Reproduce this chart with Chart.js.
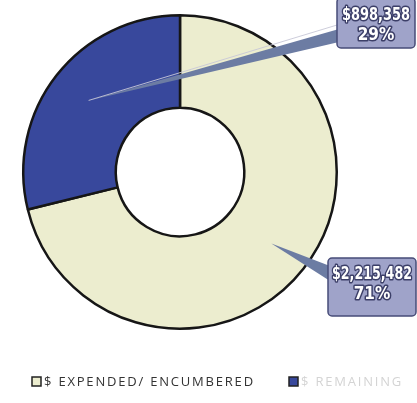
<!DOCTYPE html>
<html>
<head>
<meta charset="utf-8">
<script src="https://cdn.jsdelivr.net/npm/chart.js@4/dist/chart.umd.min.js"></script>
<style>
  html, body { margin: 0; padding: 0; background: #ffffff; }
  canvas { display: block; }
</style>
</head>
<body>
<canvas id="grafico" width="417" height="403"></canvas>
<script>
// dados do grafico
const categorias = ["$ EXPENDED/ ENCUMBERED", "$ REMAINING"];
const valores = [2215482, 898358];
const cores = ["#ecedcf", "#38489c"];

const total = valores.reduce((a, b) => a + b, 0);
const rotulosValor = valores.map(v => "$" + v.toLocaleString("en-US"));
const rotulosPct = valores.map(v => Math.round(v / total * 100) + "%");

// caixas das etiquetas (so posicao)
const caixas = [
  { x: 328, y: 258, w: 88, h: 58, base: [266, 281], larg: 80, ty: [275, 295] },
  { x: 337, y: -2, w: 78, h: 50, base: [29, 42], larg: 68, ty: [16, 36] }
];

function textoEstreito(ctx, txt, x, y, larg) {
  const w = ctx.measureText(txt).width;
  const s = Math.min(1, larg / w);
  ctx.save();
  ctx.translate(x, y);
  ctx.scale(s, 1);
  ctx.strokeText(txt, 0, 0);
  ctx.fillText(txt, 0, 0);
  ctx.restore();
}

const etiquetas = {
  id: "etiquetas",
  afterDraw(chart) {
    const ctx = chart.ctx;
    const meta = chart.getDatasetMeta(0);
    meta.data.forEach((arc, i) => {
      const p = arc.getProps(["x", "y", "startAngle", "endAngle", "innerRadius", "outerRadius"], true);
      const meio = (p.startAngle + p.endAngle) / 2;
      const r = p.innerRadius + 0.56 * (p.outerRadius - p.innerRadius);
      const tx = p.x + Math.cos(meio) * r;
      const ty = p.y + Math.sin(meio) * r;
      const c = caixas[i];

      ctx.save();
      // ponteiro
      ctx.beginPath();
      ctx.moveTo(tx, ty);
      ctx.lineTo(c.x + 2, c.base[0]);
      ctx.lineTo(c.x + 2, c.base[1]);
      ctx.closePath();
      ctx.fillStyle = "#6c7ca3";
      ctx.fill();
      if (i === 1) {
        ctx.beginPath();
        ctx.moveTo(tx, ty);
        ctx.lineTo(c.x, c.base[0] - 4);
        ctx.strokeStyle = "rgba(200,200,215,0.9)";
        ctx.lineWidth = 1;
        ctx.stroke();
      }
      // caixa
      ctx.beginPath();
      ctx.roundRect(c.x, c.y, c.w, c.h, 4);
      ctx.fillStyle = "#9fa3c9";
      ctx.fill();
      ctx.strokeStyle = "#474c78";
      ctx.lineWidth = 1.5;
      ctx.stroke();
      // texto
      ctx.font = "bold 17px 'DejaVu Sans Condensed', 'Liberation Sans', sans-serif";
      ctx.textAlign = "center";
      ctx.textBaseline = "middle";
      ctx.lineJoin = "round";
      ctx.strokeStyle = "#3c3f68";
      ctx.lineWidth = 3;
      ctx.fillStyle = "#ffffff";
      const cx = c.x + c.w / 2;
      textoEstreito(ctx, rotulosValor[i], cx, c.ty[0], c.larg);
      textoEstreito(ctx, rotulosPct[i], cx, c.ty[1], c.larg);
      ctx.restore();
    });

    // legenda
    ctx.save();
    ctx.font = "13px 'Open Sans', sans-serif";
    ctx.textBaseline = "middle";
    const legX = [32, 289];
    const corTexto = ["#333333", "#d4d4d4"];
    categorias.forEach((cat, i) => {
      ctx.fillStyle = cores[i];
      ctx.fillRect(legX[i], 377, 9, 9);
      ctx.strokeStyle = "#222222";
      ctx.lineWidth = 1.5;
      ctx.strokeRect(legX[i], 377, 9, 9);
      ctx.fillStyle = corTexto[i];
      ctx.letterSpacing = "1.8px";
      ctx.fillText(cat, legX[i] + 12, 382);
    });
    ctx.restore();
  }
};

const ctx = document.getElementById("grafico").getContext("2d");
const chart = new Chart(ctx, {
  type: "doughnut",
  data: {
    labels: categorias,
    datasets: [{
      data: valores,
      backgroundColor: cores,
      borderColor: "#161616",
      borderWidth: 2.5
    }]
  },
  options: {
    responsive: false,
    animation: false,
    cutout: "41%",
    layout: { padding: { top: 12, left: 22, right: 79, bottom: 71 } },
    plugins: {
      legend: { display: false },
      tooltip: { enabled: false }
    }
  },
  plugins: [etiquetas]
});
</script>
</body>
</html>
